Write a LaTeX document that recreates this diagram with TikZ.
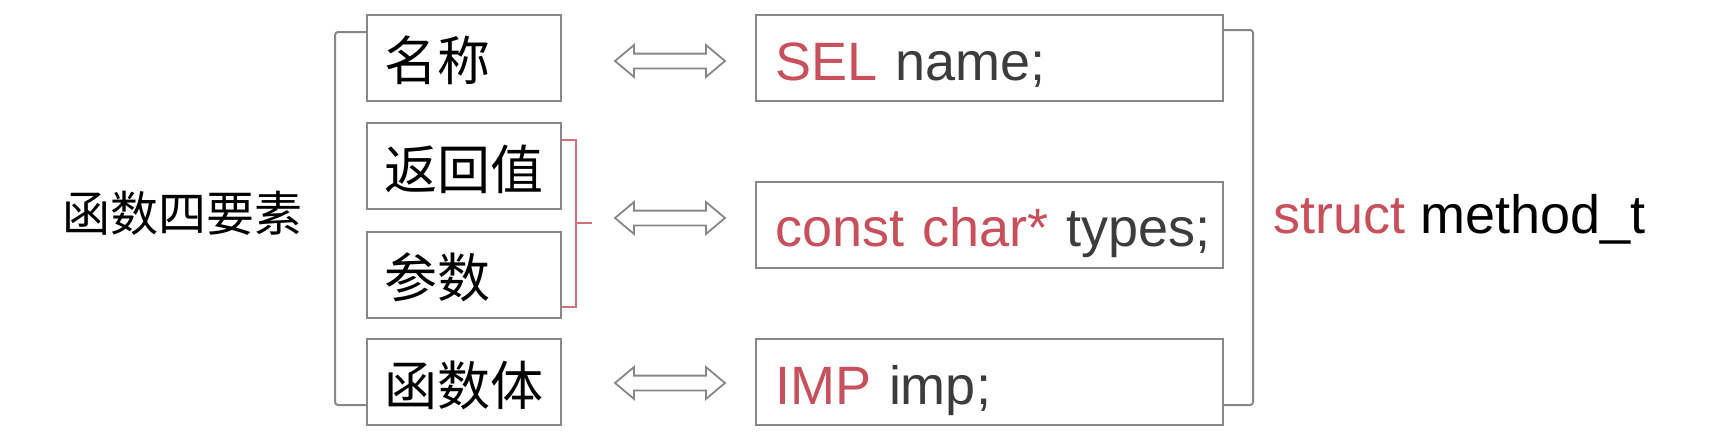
\documentclass[tikz,border=0pt]{standalone}
\usepackage{fontspec}
\setmainfont{Liberation Sans}
\newfontfamily\cjk{Noto Sans CJK SC}
\usetikzlibrary{shapes.arrows}
\definecolor{myred}{RGB}{200,80,92}
\definecolor{txtgray}{RGB}{60,60,60}
\definecolor{linegray}{RGB}{135,135,135}
\definecolor{brred}{RGB}{215,110,125}
\begin{document}
\begin{tikzpicture}[x=1pt,y=-1pt,
  lbox/.style={draw=linegray,line width=2pt,minimum width=194pt,minimum height=86pt,
    text width=160pt,align=left,inner xsep=17pt,inner ysep=0pt,text height=46pt,text depth=0pt,
    font=\cjk\fontsize{53}{60}\selectfont},
  rbox/.style={draw=linegray,line width=2pt,minimum width=467pt,minimum height=86pt,
    text width=429pt,align=left,inner xsep=19pt,inner ysep=0pt,text height=44pt,text depth=0pt,
    font=\fontsize{54}{60}\selectfont,text=txtgray},
  dblarrow/.style={double arrow,draw=linegray,line width=1.8pt,fill=white,minimum height=110pt,
    inner xsep=0pt,inner ysep=6.5pt,double arrow head extend=8.5pt,double arrow tip angle=80},
  bracket/.style={draw=linegray,line width=2pt,rounded corners=3pt},
  redbracket/.style={draw=brred,line width=1.2pt}]
\useasboundingbox (0,0) rectangle (1725,434);
% left boxes
\node[lbox] (n1) at (464,57.5) {\mbox{名称}};
\node[lbox] (n2) at (464,166) {\mbox{返回值}};
\node[lbox] (n3) at (464,274.5) {\mbox{参数}};
\node[lbox] (n4) at (464,382) {\mbox{函数体}};
% right boxes
\node[rbox] (r1) at (989.5,58) {\mbox{\textcolor{myred}{SEL} name;}};
\node[rbox] (r2) at (989.5,224.5) {\mbox{\textcolor{myred}{const char*} types;}};
\node[rbox] (r3) at (989.5,382) {\mbox{\textcolor{myred}{IMP} imp;}};
% arrows
\node[dblarrow] (a1) at (670,61) {};
\node[dblarrow] (a2) at (670,218) {};
\node[dblarrow] (a3) at (670,383) {};
% labels
\node[anchor=base,inner sep=0pt,font=\cjk\fontsize{48}{56}\selectfont] (lab) at (182,231) {函数四要素};
\node[anchor=base west,inner sep=0pt,font=\fontsize{54}{60}\selectfont] (st) at (1273,233) {\textcolor{myred}{struct} method\_t};
% left bracket
\coordinate (lt) at (335,32);
\coordinate (lb) at (335,405);
\draw[bracket] (n1.west |- lt) -- (lt) -- (lb) -- (n4.west |- lb);
% right bracket
\coordinate (rt) at (1253,30);
\coordinate (rb) at (1253,405);
\draw[bracket] (r1.east |- rt) -- (rt) -- (rb) -- (r3.east |- rb);
% red bracket
\coordinate (bt) at (576,140);
\coordinate (bb) at (576,307);
\coordinate (bm) at (576,223);
\coordinate (bmt) at (592,223);
\draw[redbracket] (n2.east |- bt) -- (bt) -- (bb) -- (n3.east |- bb);
\draw[redbracket] (bm) -- (bmt);
\end{tikzpicture}
\end{document}
